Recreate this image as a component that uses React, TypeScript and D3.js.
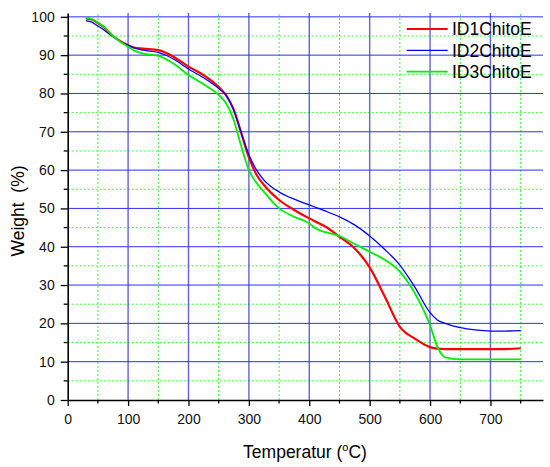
import React, { useRef, useEffect } from 'react';
import * as d3 from 'd3';

const temps = [30, 40, 50, 60, 75, 90, 100, 110, 125, 150, 175, 200, 225, 250, 262, 275, 285, 300, 312, 325, 350, 375, 400, 410, 425, 450, 475, 500, 525, 550, 575, 600, 612, 625, 650, 675, 700, 725, 750];

const id1 = [99.6, 99.3, 98.4, 97.3, 95.0, 93.4, 92.6, 92.0, 91.7, 91.3, 89.6, 87.0, 84.8, 81.7, 79.6, 75.7, 70.9, 63.3, 59.0, 56.1, 52.2, 49.6, 47.4, 46.6, 45.4, 42.6, 39.6, 34.6, 27.0, 19.1, 16.0, 13.8, 13.4, 13.3, 13.3, 13.3, 13.3, 13.3, 13.5];
const id2 = [99.0, 98.6, 97.6, 96.6, 94.8, 93.3, 92.6, 91.9, 91.3, 90.7, 89.0, 86.4, 84.1, 81.3, 79.6, 75.7, 70.9, 64.0, 60.2, 57.4, 54.3, 52.4, 50.9, 50.3, 49.4, 47.8, 45.7, 42.8, 39.3, 35.2, 29.4, 22.8, 20.9, 20.0, 18.9, 18.3, 18.0, 18.0, 18.1];
const id3 = [99.8, 99.4, 98.5, 97.4, 95.0, 93.2, 92.2, 91.2, 90.4, 89.8, 87.8, 84.8, 82.4, 79.6, 77.5, 73.0, 67.5, 60.0, 56.8, 54.3, 50.0, 47.8, 46.1, 44.8, 43.9, 42.8, 40.7, 38.7, 36.6, 33.5, 27.8, 19.5, 13.9, 11.1, 10.6, 10.6, 10.6, 10.6, 10.6];

const seriesNames = ['ID1ChitoE', 'ID2ChitoE', 'ID3ChitoE'];
const seriesColors = ['#ff0000', '#0000ff', '#00ee00'];
const seriesWidths = [2.2, 1.3, 1.8];

const xMajor = [0, 100, 200, 300, 400, 500, 600, 700];
const xMinor = [50, 150, 250, 350, 450, 550, 650, 750];
const yMajor = [0, 10, 20, 30, 40, 50, 60, 70, 80, 90, 100];
const yMinor = [5, 15, 25, 35, 45, 55, 65, 75, 85, 95];

const W = 550;
const H = 467;

const App: React.FC = () => {
    const ref = useRef<SVGSVGElement | null>(null);

    useEffect(() => {
        if (!ref.current) return;
        const svg = d3.select(ref.current);
        svg.selectAll('*').remove();

        const left = 67.7, right = 543, top = 13, bottom = 400;
        const x = d3.scaleLinear().domain([0, 787]).range([left, right]);
        const y = d3.scaleLinear().domain([0, 101]).range([bottom, top]);
        const font = 'Arial, "Liberation Sans", sans-serif';

        // minor grid, green dotted
        const grid = svg.append('g');
        grid.selectAll('.gx')
            .data(xMinor)
            .enter()
            .append('line')
            .attr('x1', d => x(d)).attr('x2', d => x(d))
            .attr('y1', bottom).attr('y2', top)
            .attr('stroke', '#33ff33').attr('stroke-width', 1)
            .attr('stroke-dasharray', '2,2');
        grid.selectAll('.gy')
            .data(yMinor)
            .enter()
            .append('line')
            .attr('x1', left).attr('x2', right)
            .attr('y1', d => y(d)).attr('y2', d => y(d))
            .attr('stroke', '#33ff33').attr('stroke-width', 1)
            .attr('stroke-dasharray', '2,2');

        // major grid, blue
        grid.selectAll('.mx')
            .data(xMajor.slice(1))
            .enter()
            .append('line')
            .attr('x1', d => x(d)).attr('x2', d => x(d))
            .attr('y1', bottom).attr('y2', top)
            .attr('stroke', '#4646d8').attr('stroke-opacity', 0.85).attr('stroke-width', 1.4);
        grid.selectAll('.my')
            .data(yMajor.slice(1))
            .enter()
            .append('line')
            .attr('x1', left).attr('x2', right)
            .attr('y1', d => y(d)).attr('y2', d => y(d))
            .attr('stroke', '#3030f0').attr('stroke-width', 1);

        // curves
        const allSeries = [id1, id2, id3];
        const line = d3.line<number>()
            .x((d, i) => x(temps[i]))
            .y(d => y(d))
            .curve(d3.curveMonotoneX);
        allSeries.forEach((s, k) => {
            svg.append('path')
                .attr('d', line(s) as string)
                .attr('fill', 'none')
                .attr('stroke', seriesColors[k])
                .attr('stroke-width', seriesWidths[k]);
        });

        // axes
        const xAxis = svg.append('g').attr('transform', `translate(0, ${bottom})`)
            .call(d3.axisBottom(x).tickValues(xMajor).tickSize(6).tickSizeOuter(0));
        xAxis.append('g').selectAll('line')
            .data(xMinor)
            .enter()
            .append('line')
            .attr('x1', d => x(d)).attr('x2', d => x(d))
            .attr('y1', 0).attr('y2', 3.5)
            .attr('stroke', '#000').attr('stroke-width', 1.3);

        const yAxis = svg.append('g').attr('transform', `translate(${left}, 0)`)
            .call(d3.axisLeft(y).tickValues(yMajor).tickSize(7).tickSizeOuter(0));
        yAxis.append('g').selectAll('line')
            .data(yMinor)
            .enter()
            .append('line')
            .attr('x1', 0).attr('x2', -4)
            .attr('y1', d => y(d)).attr('y2', d => y(d))
            .attr('stroke', '#000').attr('stroke-width', 1.3);

        [xAxis, yAxis].forEach(a => {
            a.select('.domain').attr('stroke', '#000').attr('stroke-width', 1.6);
            a.selectAll('.tick line').attr('stroke', '#000').attr('stroke-width', 1.3);
            a.selectAll('.tick text')
                .attr('font-family', font)
                .attr('font-size', 14)
                .attr('fill', '#111');
        });
        xAxis.selectAll('.tick text').attr('y', 14).attr('dy', '0.71em');
        yAxis.selectAll('.tick text').attr('x', -13);

        // axis titles
        const xt = svg.append('text')
            .attr('x', 305).attr('y', 458)
            .attr('text-anchor', 'middle')
            .attr('font-family', font).attr('font-size', 17.5)
            .text('Temperatur (');
        xt.append('tspan').attr('font-size', 11).attr('dy', -7).text('o');
        xt.append('tspan').attr('dy', 7).text('C)');

        svg.append('text')
            .attr('transform', `translate(24, 211) rotate(-90)`)
            .attr('text-anchor', 'middle')
            .attr('font-family', font).attr('font-size', 17.5)
            .style('white-space', 'pre')
            .text('Weight  (%)');

        // legend
        const legend = svg.append('g');
        seriesNames.forEach((name, k) => {
            const ly = 29 + k * 21.3;
            legend.append('line')
                .attr('x1', 406.7).attr('x2', 447.7)
                .attr('y1', ly).attr('y2', ly)
                .attr('stroke', seriesColors[k])
                .attr('stroke-width', seriesWidths[k]);
            legend.append('text')
                .attr('x', 452).attr('y', ly).attr('dy', '0.36em')
                .attr('font-family', font).attr('font-size', 17.5)
                .text(name);
        });
    }, []);

    return (
        <svg ref={ref} width={W} height={H} style={{ position: 'absolute', left: 0, top: 0, background: '#fff' }}></svg>
    );
};

export default App;
